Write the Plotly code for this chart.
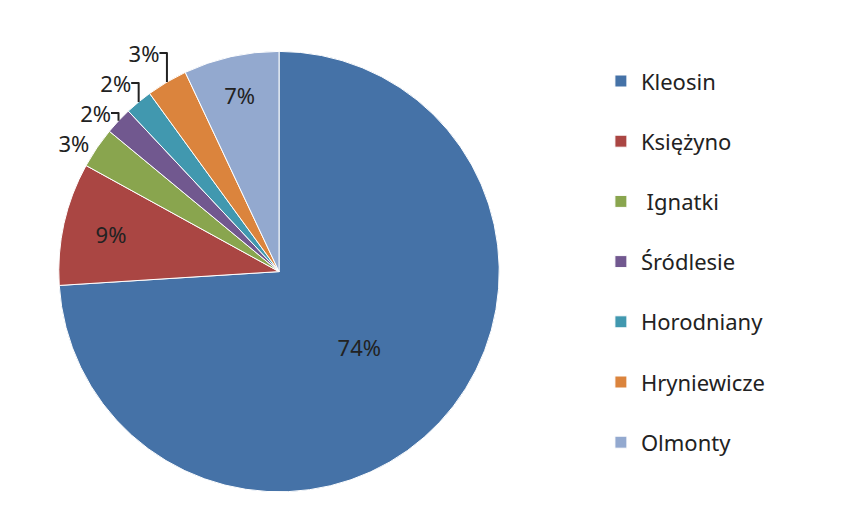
import plotly.graph_objects as go

labels = ["Kleosin", "Księżyno", " Ignatki", "Śródlesie", "Horodniany", "Hryniewicze", "Olmonty"]
values = [74, 9, 3, 2, 2, 3, 7]
colors = ["#4572A7", "#AA4643", "#89A54E", "#71588F", "#4198AF", "#DB843D", "#93A9CF"]
text_pos = ["inside", "inside", "outside", "outside", "outside", "outside", "inside"]

# second blank line gives the wide legend spacing of the original
legend_labels = [name + "<br> " for name in labels]

fig = go.Figure(go.Pie(
    labels=legend_labels, values=values, sort=False, direction="clockwise", rotation=0,
    marker=dict(colors=colors, line=dict(color="white", width=1)),
    textinfo="percent", texttemplate="%{percent:.0%}", textposition=text_pos,
    insidetextorientation="horizontal",
    textfont=dict(size=22, color="#222222"), outsidetextfont=dict(size=22, color="#222222"),
    domain=dict(x=[0.06, 0.58], y=[0.07, 0.92]),
    showlegend=True, automargin=False,
))
fig.update_layout(
    width=847, height=522, margin=dict(l=0, r=0, t=0, b=0),
    paper_bgcolor="white", font=dict(family="Noto Sans", color="#222222"),
    legend=dict(x=0.7, y=0.9, yanchor="top", valign="top", font=dict(size=22),
                itemwidth=30),
    uniformtext=dict(minsize=22, mode="show"),
)
fig.write_html("out.html")
